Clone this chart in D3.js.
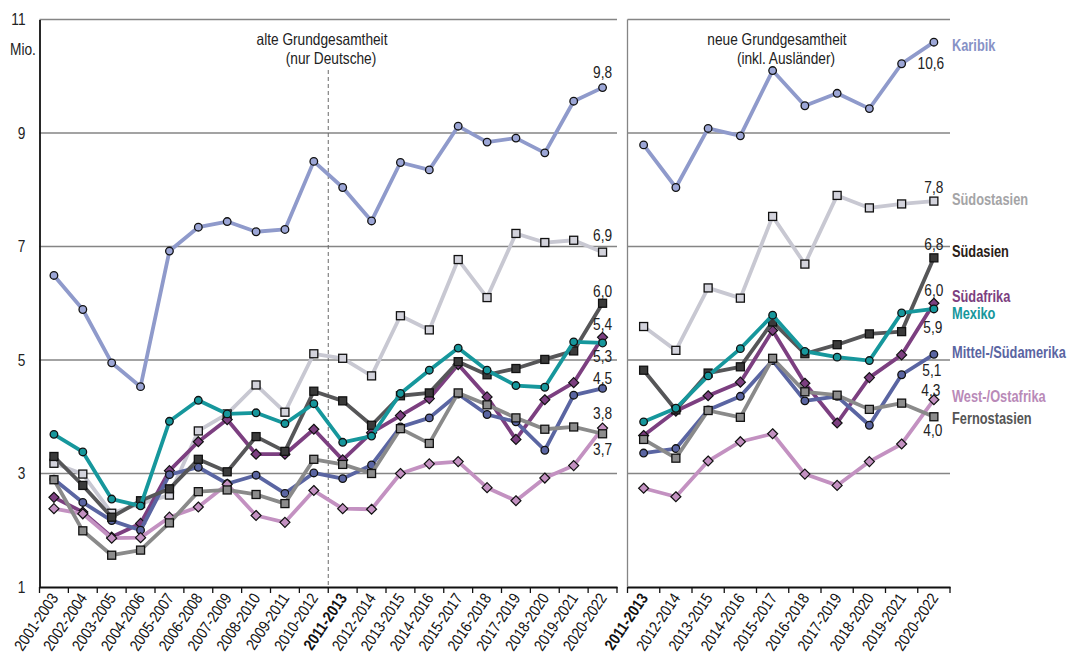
<!DOCTYPE html>
<html>
<head>
<meta charset="utf-8">
<script src="https://cdn.jsdelivr.net/npm/d3@7"></script>
<style>
  html, body { margin: 0; padding: 0; background: #fff; }
  svg { display: block; font-family: "Liberation Sans Narrow", "Arial Narrow", "Liberation Sans", sans-serif; }
</style>
</head>
<body>
<svg id="chart" width="1073" height="662"></svg>
<script>
// Categories (3-year rolling periods)
const leftCats = ["2001-2003","2002-2004","2003-2005","2004-2006","2005-2007","2006-2008","2007-2009","2008-2010","2009-2011","2010-2012",
                  "2011-2013","2012-2014","2013-2015","2014-2016","2015-2017","2016-2018","2017-2019","2018-2020","2019-2021","2020-2022"];
const rightCats = ["2011-2013","2012-2014","2013-2015","2014-2016","2015-2017","2016-2018","2017-2019","2018-2020","2019-2021","2020-2022"];
const boldCat = "2011-2013";

// Y ticks (Mio.)
const yTicks = [1, 3, 5, 7, 9, 11];

// Series names
const seriesNames = ["Karibik","Südostasien","Südasien","Südafrika","Mexiko","Mittel-/Südamerika","West-/Ostafrika","Fernostasien"];

// Old population base (Germans only)
const leftKaribik     = [6.49, 5.89, 4.95, 4.53, 6.92, 7.34, 7.44, 7.26, 7.30, 8.50, 8.04, 7.45, 8.48, 8.35, 9.12, 8.84, 8.91, 8.65, 9.56, 9.8];
const leftSuedostasien= [3.18, 2.99, 2.30, 2.47, 2.62, 3.75, 4.05, 4.56, 4.08, 5.11, 5.03, 4.72, 5.78, 5.53, 6.77, 6.10, 7.23, 7.07, 7.11, 6.9];
const leftSuedasien   = [3.30, 2.79, 2.23, 2.52, 2.73, 3.25, 3.03, 3.65, 3.39, 4.45, 4.28, 3.85, 4.37, 4.42, 4.97, 4.74, 4.85, 5.01, 5.16, 6.0];
const leftSuedafrika  = [2.58, 2.32, 1.88, 2.12, 3.05, 3.56, 3.95, 3.34, 3.34, 3.78, 3.24, 3.72, 4.02, 4.32, 4.92, 4.35, 3.60, 4.30, 4.60, 5.4];
const leftMexiko      = [3.69, 3.38, 2.55, 2.43, 3.92, 4.29, 4.05, 4.07, 3.88, 4.23, 3.55, 3.66, 4.41, 4.82, 5.21, 4.82, 4.55, 4.52, 5.32, 5.3];
const leftMittelSued  = [2.90, 2.49, 2.17, 2.00, 2.98, 3.11, 2.82, 2.97, 2.65, 3.01, 2.91, 3.15, 3.82, 3.98, 4.40, 4.04, 3.91, 3.41, 4.38, 4.5];
const leftWestOst     = [2.38, 2.29, 1.86, 1.87, 2.23, 2.41, 2.81, 2.26, 2.14, 2.70, 2.38, 2.37, 3.00, 3.17, 3.21, 2.75, 2.52, 2.92, 3.14, 3.8];
const leftFernost     = [2.89, 1.99, 1.56, 1.65, 2.13, 2.68, 2.71, 2.63, 2.47, 3.25, 3.16, 3.00, 3.79, 3.53, 4.42, 4.21, 3.98, 3.78, 3.82, 3.7];

// New population base (incl. foreigners)
const rightKaribik     = [8.79, 8.04, 9.08, 8.95, 10.10, 9.48, 9.70, 9.43, 10.22, 10.6];
const rightSuedostasien= [5.59, 5.17, 6.27, 6.09, 7.53, 6.69, 7.90, 7.68, 7.75, 7.8];
const rightSuedasien   = [4.82, 4.12, 4.77, 4.88, 5.67, 5.11, 5.27, 5.46, 5.50, 6.8];
const rightSuedafrika  = [3.67, 4.10, 4.37, 4.61, 5.52, 4.59, 3.89, 4.69, 5.09, 6.0];
const rightMexiko      = [3.91, 4.15, 4.72, 5.20, 5.79, 5.15, 5.05, 4.99, 5.83, 5.9];
const rightMittelSued  = [3.36, 3.44, 4.12, 4.36, 4.99, 4.28, 4.36, 3.85, 4.74, 5.1];
const rightWestOst     = [2.74, 2.59, 3.22, 3.56, 3.70, 2.99, 2.79, 3.21, 3.52, 4.3];
const rightFernost     = [3.60, 3.27, 4.11, 3.99, 5.03, 4.44, 4.38, 4.13, 4.24, 4.0];

const leftValues  = [leftKaribik, leftSuedostasien, leftSuedasien, leftSuedafrika, leftMexiko, leftMittelSued, leftWestOst, leftFernost];
const rightValues = [rightKaribik, rightSuedostasien, rightSuedasien, rightSuedafrika, rightMexiko, rightMittelSued, rightWestOst, rightFernost];

// Styling per series: marker shape, line colour, marker fill, legend text colour, end-label offsets
const styles = {
  "Karibik":            {shape: "circle",  line: "#8f9acb", fill: "#9ca6d6", text: "#8792c6", lblL: -15, lblR: 21, lblRx: -3, legY: 45},
  "Südostasien":        {shape: "square",  line: "#c8c8d2", fill: "#d3d3dc", text: "#a4a4a6", lblL: -17, lblR: -14, lblRx: 0, legY: 199},
  "Südasien":           {shape: "square",  line: "#565658", fill: "#3a3a3a", text: "#2a2016", lblL: -12, lblR: -14, lblRx: 0, legY: 251},
  "Südafrika":          {shape: "diamond", line: "#7c3f80", fill: "#7c3f80", text: "#7c3f80", lblL: -13, lblR: -13, lblRx: 0, legY: 296},
  "Mexiko":             {shape: "circle",  line: "#16979c", fill: "#16979c", text: "#16979c", lblL: 13, lblR: 18, lblRx: -1, legY: 313},
  "Mittel-/Südamerika": {shape: "circle",  line: "#5a65a2", fill: "#5a65a2", text: "#5a65a2", lblL: -10, lblR: 16, lblRx: -2, legY: 352},
  "West-/Ostafrika":    {shape: "diamond", line: "#c391c1", fill: "#c391c1", text: "#b98ab8", lblL: -15, lblR: -10, lblRx: -3, legY: 396},
  "Fernostasien":       {shape: "square",  line: "#8a8a8a", fill: "#8c8c8c", text: "#555555", lblL: 15, lblR: 13, lblRx: -1, legY: 418}
};
// Drawing order, bottom to top
const drawOrder = ["Südostasien","Südafrika","Mittel-/Südamerika","West-/Ostafrika","Fernostasien","Südasien","Mexiko","Karibik"];

const svg = d3.select("#chart");
const fmt = v => d3.format(".1f")(v).replace(".", ",");

// Condensed lettering: squeeze each text run horizontally
function narrow(sel, k) {
  sel.each(function () {
    const w = this.getComputedTextLength();
    if (w > 0) {
      this.setAttribute("textLength", (w * k).toFixed(2));
      this.setAttribute("lengthAdjust", "spacingAndGlyphs");
    }
  });
}

const y = d3.scaleLinear().domain([1, 11]).range([587, 19.5]);
const xL = d3.scaleBand().domain(leftCats).range([39.5, 617]);
const xR = d3.scaleBand().domain(rightCats).range([627.5, 950]);

// Gridlines
function grid(x0, x1) {
  svg.append("g").selectAll("line").data(yTicks.filter(t => t > 1)).join("line")
    .attr("x1", x0).attr("x2", x1)
    .attr("y1", d => y(d)).attr("y2", d => y(d))
    .attr("stroke", "#858585").attr("stroke-width", 1.3);
}
grid(39.5, 617);
grid(627.5, 950);

// Right panel left border
svg.append("line").attr("x1", 627.5).attr("x2", 627.5).attr("y1", y(11)).attr("y2", y(1))
  .attr("stroke", "#858585").attr("stroke-width", 1.3);

// Dashed separator at the change of population base
svg.append("line")
  .attr("x1", xL(boldCat)).attr("x2", xL(boldCat))
  .attr("y1", 70).attr("y2", y(1))
  .attr("stroke", "#6a6a6a").attr("stroke-width", 1).attr("stroke-dasharray", "4,3");

// Y axis (left)
const yAxis = d3.axisLeft(y).tickValues(yTicks).tickSize(0).tickPadding(14).tickFormat(d3.format("d"));
const gy = svg.append("g").attr("transform", "translate(39.5,0)").call(yAxis);
gy.select(".domain").attr("stroke", "#111").attr("stroke-width", 1.8);
gy.selectAll("text").attr("font-size", 16.5).attr("fill", "#222").attr("font-family", null).call(narrow, 0.83);

svg.append("text").attr("x", 10).attr("y", 55).attr("font-size", 16.5).attr("fill", "#222").text("Mio.").call(narrow, 0.83);

// X axes
function xAxis(scale) {
  const ax = d3.axisBottom(scale).tickSize(0).tickFormat("");
  const g = svg.append("g").attr("transform", `translate(0,${y(1)})`).call(ax);
  g.select(".domain").attr("stroke", "#111").attr("stroke-width", 1.8);
  // tick marks at band edges
  const edges = scale.domain().map(d => scale(d)).concat([scale.range()[1]]);
  g.selectAll("line.edge").data(edges).join("line").attr("class", "edge")
    .attr("x1", d => d).attr("x2", d => d).attr("y1", 0).attr("y2", 6)
    .attr("stroke", "#111").attr("stroke-width", 1.3);
  g.selectAll("text.cat").data(scale.domain()).join("text").attr("class", "cat")
    .attr("transform", d => `translate(${scale(d) + scale.bandwidth() / 2 + 5},${11}) rotate(-56)`)
    .attr("text-anchor", "end")
    .attr("font-size", 16)
    .attr("font-weight", d => d === boldCat ? "bold" : "normal")
    .attr("fill", "#111")
    .text(d => d)
    .call(narrow, 0.85);
}
xAxis(xL);
xAxis(xR);

// Panel headings
function heading(xc, y0, lines) {
  svg.append("text").attr("x", xc).attr("y", y0).attr("text-anchor", "middle")
    .attr("font-size", 16.5).attr("fill", "#222")
    .selectAll("tspan").data(lines).join("tspan")
    .attr("x", (d, i) => xc + i * 9).attr("dy", (d, i) => i === 0 ? 0 : 19).text(d => d)
    .call(narrow, 0.83);
}
heading(322, 45, ["alte Grundgesamtheit", "(nur Deutsche)"]);
heading(777, 45, ["neue Grundgesamtheit", "(inkl. Ausländer)"]);

// Series
function marker(g, shape, fill, cx, cy) {
  if (shape === "circle") {
    g.append("circle").attr("cx", cx).attr("cy", cy).attr("r", 3.8)
      .attr("fill", fill).attr("stroke", "#111").attr("stroke-width", 1.3);
  } else if (shape === "square") {
    g.append("rect").attr("x", cx - 4).attr("y", cy - 4).attr("width", 8).attr("height", 8)
      .attr("fill", fill).attr("stroke", "#111").attr("stroke-width", 1.3);
  } else {
    const s = 5;
    g.append("path").attr("d", `M${cx},${cy - s}L${cx + s},${cy}L${cx},${cy + s}L${cx - s},${cy}Z`)
      .attr("fill", fill).attr("stroke", "#111").attr("stroke-width", 1.2);
  }
}

function drawPanel(scale, cats, valuesList) {
  drawOrder.forEach(name => {
    const idx = seriesNames.indexOf(name);
    const st = styles[name];
    const vals = valuesList[idx];
    const pts = vals.map((v, i) => [scale(cats[i]) + scale.bandwidth() / 2, y(v)]);
    const g = svg.append("g");
    g.append("path").attr("d", d3.line()(pts)).attr("fill", "none")
      .attr("stroke", st.line).attr("stroke-width", 3.8).attr("stroke-linejoin", "round");
    pts.forEach(p => marker(g, st.shape, st.fill, p[0], p[1]));
  });
}
drawPanel(xL, leftCats, leftValues);
drawPanel(xR, rightCats, rightValues);

// End-value labels and series names
seriesNames.forEach((name, idx) => {
  const st = styles[name];
  const lv = leftValues[idx][leftValues[idx].length - 1];
  const lx = xL(leftCats[leftCats.length - 1]) + xL.bandwidth() / 2;
  svg.append("text").attr("x", lx).attr("y", y(lv) + st.lblL).attr("dy", "0.35em")
    .attr("text-anchor", "middle").attr("font-size", 16.5).attr("fill", "#222").text(fmt(lv))
    .call(narrow, 0.83);
  const rv = rightValues[idx][rightValues[idx].length - 1];
  const rx = xR(rightCats[rightCats.length - 1]) + xR.bandwidth() / 2;
  svg.append("text").attr("x", rx + st.lblRx).attr("y", y(rv) + st.lblR).attr("dy", "0.35em")
    .attr("text-anchor", "middle").attr("font-size", 16.5).attr("fill", "#222").text(fmt(rv))
    .call(narrow, 0.83);
  svg.append("text").attr("x", 952).attr("y", st.legY).attr("dy", "0.35em")
    .attr("font-size", 16).attr("font-weight", "bold").attr("fill", st.text).text(name)
    .call(narrow, 0.8);
});
</script>
</body>
</html>
